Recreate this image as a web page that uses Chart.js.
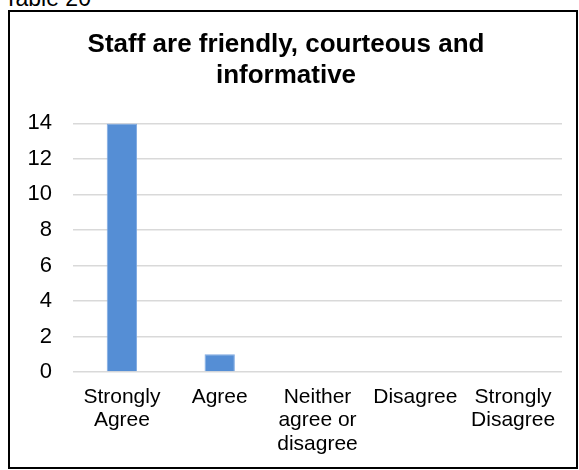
<!DOCTYPE html>
<html>
<head>
<meta charset="utf-8">
<script src="https://cdn.jsdelivr.net/npm/chart.js@4"></script>
<style>
  html, body { margin: 0; padding: 0; background: #fff; }
  body { width: 579px; height: 470px; position: relative; overflow: hidden; font-family: 'Liberation Sans', Arial, sans-serif; }
  #caption { position: absolute; left: 4px; top: -13px; font-size: 23px; line-height: 23px; color: #000; z-index: 2; }
  #box { position: absolute; left: 8px; top: 10px; width: 566px; height: 455px; border: 2px solid #000; }
  #box canvas { display: block; }
</style>
</head>
<body>
<div id="caption">Table 20</div>
<div id="box"><canvas id="chart" width="566" height="455"></canvas></div>
<script>
// data
const categories = [['Strongly', 'Agree'], 'Agree', ['Neither', 'agree or', 'disagree'], 'Disagree', ['Strongly', 'Disagree']];
const counts = [14, 1, 0, 0, 0];
const yTicks = [0, 2, 4, 6, 8, 10, 12, 14];
const chartTitle = ['Staff are friendly, courteous and', 'informative'];

const FONT = "'Liberation Sans', Arial, sans-serif";

new Chart(document.getElementById('chart'), {
  type: 'bar',
  data: {
    labels: categories,
    datasets: [{
      label: 'Responses',
      data: counts,
      backgroundColor: '#558ed5',
      borderColor: '#7ea9e1',
      borderWidth: 1,
      categoryPercentage: 1,
      barPercentage: 0.31,
    }],
  },
  options: {
    responsive: false,
    animation: false,
    layout: { padding: { left: 0, right: 14, top: 0, bottom: 0 } },
    plugins: {
      legend: { display: false },
      tooltip: { enabled: false },
      title: {
        display: true,
        text: chartTitle,
        color: '#000',
        font: { family: FONT, size: 26, weight: 'bold', lineHeight: 1.2 },
        padding: { top: 17, bottom: 32 },
      },
    },
    scales: {
      x: {
        grid: { display: false, drawTicks: false },
        border: { display: false },
        ticks: { color: '#000', padding: 14, maxRotation: 0, autoSkip: false, font: { family: FONT, size: 21, lineHeight: 1.1 } },
        afterFit: s => { s.height = 95; },
      },
      y: {
        min: 0,
        max: 14,
        afterBuildTicks: s => { s.ticks = yTicks.map(v => ({ value: v })); },
        grid: { color: '#d9d9d9', lineWidth: 1.5, drawTicks: false },
        border: { display: false },
        ticks: { color: '#000', padding: 21, font: { family: FONT, size: 22 } },
        afterFit: s => { s.width = 63; },
      },
    },
  },
});
</script>
</body>
</html>
